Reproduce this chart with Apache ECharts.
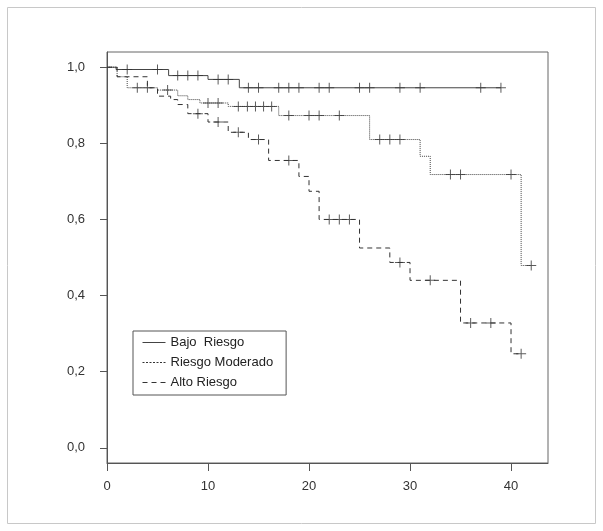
<!DOCTYPE html>
<html>
<head>
<meta charset="utf-8">
<title>Supervivencia</title>
<script src="https://cdn.jsdelivr.net/npm/echarts@6/dist/echarts.min.js"></script>
<style>
  *{margin:0px; padding:0px;}
  body{background:#fff;}
  #main{width:603px; height:531px;}
</style>
</head>
<body>
<div id="main"></div>
<script type="text/javascript">
// tiempo (x) en que cae la curva y supervivencia desde ese punto
var bajoT = [0, 0.9, 6.1, 10, 13.1, 39];
var bajoS = [1.0, 0.994, 0.978, 0.968, 0.946, 0.946];
var bajoCens = [2, 5, 7, 8, 9, 11, 12, 14, 15, 17, 18, 19, 21, 22, 25, 26, 29, 31, 37, 39];

var modT = [0, 1, 2, 5, 7, 8, 9.2, 12, 17, 26, 31, 32, 41, 42];
var modS = [1.0, 0.975, 0.946, 0.94, 0.925, 0.915, 0.906, 0.897, 0.873, 0.81, 0.766, 0.718, 0.479, 0.479];
var modCens = [3, 4, 6, 10, 11, 13, 13.9, 14.7, 15.5, 16.3, 18, 20, 21, 23, 27, 28, 29, 34, 35, 40, 42];

var altoT = [0, 1, 4, 5, 6.3, 7, 8, 10, 12, 14, 16, 19, 20, 21, 25, 28, 30, 35, 40, 41];
var altoS = [1.0, 0.975, 0.946, 0.924, 0.915, 0.902, 0.878, 0.856, 0.829, 0.81, 0.755, 0.713, 0.674, 0.6, 0.525, 0.487, 0.44, 0.328, 0.247, 0.247];
var altoCens = [9, 11, 13, 15, 18, 22, 23, 24, 29, 32, 36, 38, 41];

var names = ['Bajo  Riesgo', 'Riesgo Moderado', 'Alto Riesgo'];
var xTicks = [0, 10, 20, 30, 40];
var yTicks = [0, 0.2, 0.4, 0.6, 0.8, 1.0];

function stepData(t, s) {
    return t.map(function (v, i) { return [v, s[i]]; });
}
function survAt(t, s, x) {
    var v = s[0];
    for (var i = 0; i < t.length; i++) {
        if (t[i] <= x) v = s[i];
    }
    return v;
}
function censData(t, s, c) {
    return c.map(function (x) { return [x, survAt(t, s, x)]; });
}

var font = "'Liberation Sans', Arial, sans-serif";
var cross = 'path://M0,4.5H10V5.5H0Z M4.5,0H5.5V10H4.5Z';
var markStyle = { color: '#333' };

var myChart = echarts.init(document.getElementById('main'));

var option = {
    backgroundColor: '#fff',
    animation: false,
    textStyle: { fontFamily: font },
    graphic: [{
        type: 'rect',
        silent: true,
        shape: { x: 7.5, y: 7.5, width: 588, height: 516 },
        style: { fill: 'none', stroke: '#c8c8c8', lineWidth: 1 }
    }],
    grid: {
        left: 107, top: 52, right: 55, bottom: 68,
        show: true, borderColor: '#666', borderWidth: 1
    },
    legend: {
        orient: 'vertical',
        left: 133, top: 331,
        padding: [4, 13, 5, 9],
        itemGap: 5,
        itemWidth: 23,
        itemHeight: 11,
        selectedMode: false,
        backgroundColor: '#fff',
        borderColor: '#555',
        borderWidth: 1,
        itemStyle: { opacity: 0 },
        lineStyle: { width: 1 },
        data: [
            { name: names[0] },
            { name: names[1], lineStyle: { type: [2, 1.5], color: '#333' } },
            { name: names[2] }
        ],
        textStyle: { fontSize: 13, color: '#222', lineHeight: 15, fontFamily: font }
    },
    xAxis: {
        type: 'value',
        min: 0, max: 43.66,
        splitLine: { show: false },
        axisLine: { show: true, onZero: false, lineStyle: { color: '#555', width: 1 } },
        axisTick: { show: true, length: 8, customValues: xTicks, lineStyle: { color: '#555' } },
        axisLabel: { margin: 17, fontSize: 13, color: '#333', customValues: xTicks }
    },
    yAxis: {
        type: 'value',
        min: -0.04, max: 1.04,
        splitLine: { show: false },
        axisLine: { show: true, lineStyle: { color: '#555', width: 1 } },
        axisTick: { show: true, length: 7, customValues: yTicks, lineStyle: { color: '#555' } },
        axisLabel: {
            margin: 22, fontSize: 13, color: '#333', customValues: yTicks,
            formatter: function (v) { return v.toFixed(1).replace('.', ','); }
        }
    },
    series: [
        {
            name: names[0], type: 'line', step: 'end', symbol: 'none',
            data: stepData(bajoT, bajoS),
            lineStyle: { color: '#444', width: 1, type: 'solid' },
            itemStyle: { color: '#444' }
        },
        {
            name: names[1], type: 'line', step: 'end', symbol: 'none',
            data: stepData(modT, modS),
            lineStyle: { color: '#444', width: 1, type: [1, 1] },
            itemStyle: { color: '#444' }
        },
        {
            name: names[2], type: 'line', step: 'end', symbol: 'none',
            data: stepData(altoT, altoS),
            lineStyle: { color: '#333', width: 1, type: [5, 4] },
            itemStyle: { color: '#333' }
        },
        {
            type: 'scatter', symbol: cross, symbolSize: 10, z: 3,
            data: censData(bajoT, bajoS, bajoCens), itemStyle: markStyle
        },
        {
            type: 'scatter', symbol: cross, symbolSize: 10, z: 3,
            data: censData(modT, modS, modCens), itemStyle: markStyle
        },
        {
            type: 'scatter', symbol: cross, symbolSize: 10, z: 3,
            data: censData(altoT, altoS, altoCens), itemStyle: markStyle
        }
    ]
};

myChart.setOption(option);
</script>
</body>
</html>
